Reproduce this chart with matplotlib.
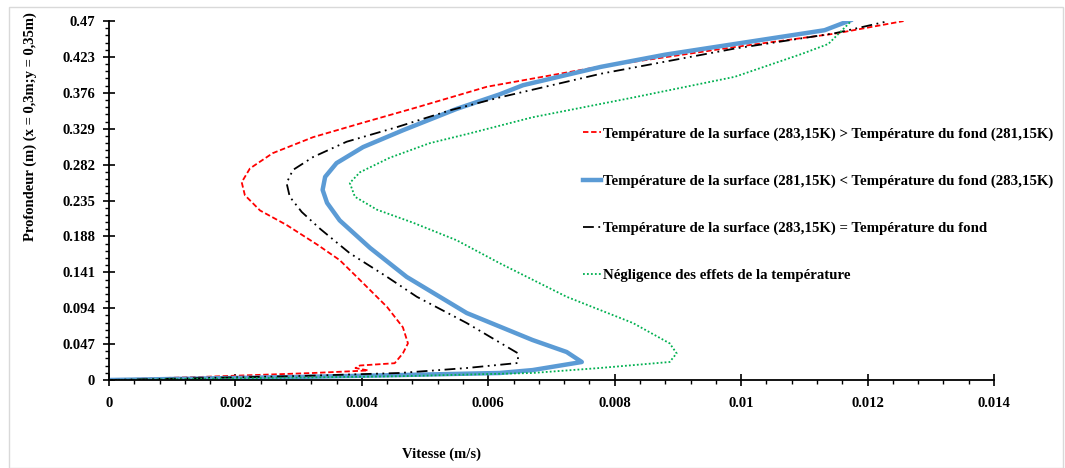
import matplotlib.pyplot as plt
from matplotlib.patches import Rectangle
from matplotlib.ticker import MultipleLocator, FixedLocator

plt.rcParams['font.family'] = ['Liberation Serif', 'DejaVu Serif']
plt.rcParams['font.weight'] = 'bold'

# vitesse (m/s) / profondeur (m)
red_x = [0.0, 0.00033, 0.00144, 0.00323, 0.0041, 0.0039, 0.00397, 0.00452, 0.00465, 0.00473,
         0.00465, 0.0044, 0.00397, 0.00365, 0.0033, 0.00281, 0.00239, 0.00215, 0.0021,
         0.00223, 0.00259, 0.00323, 0.00402, 0.00487, 0.00598, 0.00767, 0.0099, 0.01148, 0.01257]
red_y = [0.0, 0.0013, 0.004, 0.0092, 0.0125, 0.0157, 0.019, 0.022, 0.035, 0.048,
         0.069, 0.0956, 0.131, 0.157, 0.177, 0.203, 0.222, 0.242, 0.259,
         0.277, 0.297, 0.318, 0.337, 0.357, 0.384, 0.409, 0.436, 0.4535, 0.47]

blue_x = [0.0, 0.003, 0.0046, 0.00618, 0.0067, 0.00748, 0.00724, 0.0067, 0.00566, 0.00471,
          0.00413, 0.00365, 0.00345, 0.00338, 0.00342, 0.0036, 0.00402, 0.00465, 0.0055,
          0.00618, 0.00655, 0.00778, 0.0088, 0.0099, 0.01132, 0.01173]
blue_y = [0.0, 0.004, 0.0065, 0.0092, 0.013, 0.0236, 0.0367, 0.0524, 0.0877, 0.135,
          0.173, 0.209, 0.232, 0.249, 0.266, 0.284, 0.305, 0.327, 0.355,
          0.374, 0.386, 0.41, 0.426, 0.44, 0.458, 0.471]

black_x = [0.0, 0.003, 0.0046, 0.00566, 0.00647, 0.00647, 0.00566, 0.00487, 0.0044, 0.00381,
           0.00334, 0.00305, 0.00286, 0.00281, 0.00291, 0.00323, 0.00376, 0.00455, 0.00539,
           0.00618, 0.00778, 0.0099, 0.01148, 0.01228]
black_y = [0.0, 0.0052, 0.0092, 0.0157, 0.0223, 0.035, 0.0746, 0.109, 0.135, 0.166,
           0.198, 0.220, 0.240, 0.258, 0.275, 0.292, 0.312, 0.331, 0.353,
           0.370, 0.401, 0.434, 0.454, 0.469]

green_x = [0.0, 0.0046, 0.0067, 0.00776, 0.00887, 0.00898, 0.00887, 0.00829, 0.00724, 0.00618,
           0.0055, 0.00481, 0.00424, 0.00389, 0.00381, 0.00397, 0.00444, 0.00507, 0.00571,
           0.0067, 0.0083, 0.0099, 0.01096, 0.01138, 0.01173]
green_y = [0.0, 0.005, 0.0092, 0.0157, 0.0236, 0.035, 0.048, 0.0746, 0.109, 0.153,
           0.183, 0.206, 0.223, 0.240, 0.258, 0.272, 0.291, 0.310, 0.323,
           0.344, 0.370, 0.397, 0.427, 0.44, 0.469]

y_ticks = [0, 0.047, 0.094, 0.141, 0.188, 0.235, 0.282, 0.329, 0.376, 0.423, 0.47]
y_labels = ["0", "0.047", "0.094", "0.141", "0.188", "0.235", "0.282", "0.329", "0.376", "0.423", "0.47"]
x_ticks = [0, 0.002, 0.004, 0.006, 0.008, 0.01, 0.012, 0.014]
x_labels = ["0", "0.002", "0.004", "0.006", "0.008", "0.01", "0.012", "0.014"]

labels = [
    "Température de la surface (283,15K) > Température du fond (281,15K)",
    "Température de la surface (281,15K) < Température du fond (283,15K)",
    "Température de la surface (283,15K) = Température du fond",
    "Négligence des effets de la température",
]

fig = plt.figure(figsize=(10.65, 4.68), dpi=100)
fig.patches.append(Rectangle((0.008, 0.0), 0.99, 0.985, transform=fig.transFigure,
                             fill=False, edgecolor='#d9d9d9', lw=1))
ax = fig.add_axes([0.1023, 0.188, 0.831, 0.767])

l1, = ax.plot(red_x, red_y, color='#ff0000', lw=1.3, dashes=(3, 1.5), label=labels[0])
l2, = ax.plot(blue_x, blue_y, color='#5b9bd5', lw=3.2, solid_joinstyle='round', label=labels[1])
l3, = ax.plot(black_x, black_y, color='black', lw=1.3, dashes=(6, 2.5, 1, 2.5, 1, 2.5), label=labels[2])
l4, = ax.plot(green_x, green_y, color='#00b050', lw=1.3, dashes=(1, 1.2), label=labels[3])

ax.set_xlim(0, 0.014)
ax.set_ylim(0, 0.47)
ax.xaxis.set_major_locator(FixedLocator(x_ticks))
ax.xaxis.set_minor_locator(MultipleLocator(0.0004))
ax.set_xticklabels(x_labels)
ax.yaxis.set_major_locator(FixedLocator(y_ticks))
ax.yaxis.set_minor_locator(MultipleLocator(0.0094))
ax.set_yticklabels(y_labels)

for s in ['top', 'right']:
    ax.spines[s].set_visible(False)
for s in ['left', 'bottom']:
    ax.spines[s].set_linewidth(1.3)

ax.tick_params(which='major', direction='inout', length=8, width=1.2, labelsize=10.5, pad=6)
ax.tick_params(which='minor', direction='out', length=3, width=1)
ax.tick_params(axis='x', which='major', pad=8)

fig.text(0.415, 0.03, "Vitesse (m/s)", ha='center', va='center', fontsize=10.5, fontweight='bold')
fig.text(0.028, 0.73, "Profondeur (m) (x = 0,3m;y = 0,35m)", rotation=90, ha='center', va='center',
         fontsize=10.5, fontweight='bold')

ax.legend(handles=[l1, l2, l3, l4], loc='upper left', bbox_to_anchor=(0.542, 0.741),
          bbox_transform=fig.transFigure, frameon=False, fontsize=10.7, handlelength=1.2,
          handletextpad=0.15, labelspacing=2.27, borderaxespad=0)

fig.savefig("out.png", dpi=100)
